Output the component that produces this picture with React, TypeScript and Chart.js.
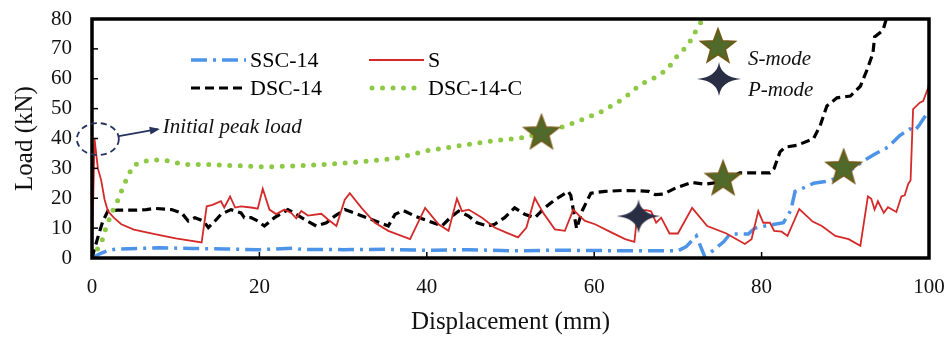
import React, { useEffect, useRef } from 'react';
import { Chart, registerables } from 'chart.js';
Chart.register(...registerables);

// ---------- data ----------
const sscX = [0, 1, 1.9, 3, 5.5, 8, 12, 16, 20, 24, 25, 30, 35, 40, 45, 50, 55, 60, 65, 70, 71, 72.2, 73.2, 74.2, 75.5, 76.2, 78.4, 79.2, 80.4, 82.6, 83.5, 84, 84.8, 86.2, 87.6, 89, 90.5, 92, 93.6, 95.1, 96.5, 97.7, 98.3, 98.9, 99.7, 100];
const sscY = [0, 1.5, 2.5, 3, 3.2, 3.4, 3.2, 3, 2.8, 3.3, 2.9, 2.8, 2.9, 2.6, 2.8, 2.4, 2.6, 2.5, 2.4, 2.4, 3.8, 7.4, 0.5, 2.5, 5.5, 8, 8, 10, 10.7, 11.8, 16, 22.3, 23.2, 25, 25.6, 26.7, 29, 32.2, 34.9, 37.1, 41, 43.2, 42.5, 44.8, 48.1, 48.5];

const sX = [0, 0.3, 0.7, 1.1, 1.5, 1.9, 2.6, 3.5, 5, 7.5, 10, 13.1, 13.7, 14.4, 15.4, 15.8, 16.5, 17.1, 17.8, 19, 19.8, 20.4, 21.2, 22, 23, 23.8, 24.4, 25, 25.8, 27.4, 28.2, 29.2, 30.2, 30.8, 32.2, 33.8, 35.4, 38, 39.8, 41.4, 42.6, 43.6, 44.2, 45, 46.6, 48.1, 49.5, 50.9, 51.9, 52.9, 53.9, 55.3, 56.5, 57.5, 58.2, 58.9, 60.1, 62.1, 63.7, 64.8, 65.2, 66.2, 66.8, 67.4, 68, 69, 70, 71.7, 73.5, 75.8, 78, 78.8, 79.6, 80.2, 81, 81.5, 82.4, 83.1, 84.5, 86.1, 87.2, 88.8, 90.4, 91.8, 92.7, 93.1, 93.5, 93.9, 94.6, 95.1, 96.1, 96.7, 97.1, 97.5, 97.8, 98.1, 98.9, 99.3, 99.9, 100];
const sY = [0, 40, 30, 26, 19.6, 15.7, 13.5, 11.3, 9.5, 8, 6.6, 5.2, 17.3, 17.8, 19, 16.9, 20.6, 16.9, 17.3, 16.9, 16.5, 23.2, 16.2, 14.7, 16.2, 15.1, 13.3, 15.7, 14.2, 14.8, 12.9, 10.7, 19.5, 21.7, 16.8, 11.8, 9.1, 6.3, 16.8, 11.3, 9.1, 19.9, 15.7, 16.2, 13.5, 10.2, 8.5, 6.9, 10.2, 20.1, 15.1, 9.6, 9.1, 16.2, 14.2, 12.4, 11.3, 8.5, 6.3, 5.4, 15.7, 16, 15.6, 11.8, 13.5, 8.2, 8.2, 16.8, 10.7, 8.2, 4.7, 6.3, 15.7, 11.8, 11.8, 9.1, 8.8, 7.4, 16.4, 12.2, 10.7, 7.4, 6.3, 4.1, 20.6, 19.8, 16.2, 19, 15.1, 17, 15.4, 20.6, 21, 24.7, 26, 49.8, 52, 52.5, 57, 58.5];

const dscX = [0, 0.7, 1.3, 1.9, 3, 5, 6.5, 7.5, 9.5, 10.7, 11.5, 12.3, 13.3, 13.9, 14.7, 15.4, 16.6, 17.8, 18.2, 19, 19.8, 20.6, 21.8, 23.4, 24.4, 25.4, 26.8, 28, 29, 30.2, 31.8, 33.4, 35.4, 36.2, 37.2, 38.6, 40.2, 41.8, 42.8, 43.8, 45, 46, 47.3, 48.1, 49.3, 50.5, 51.7, 52.9, 54.1, 55.3, 56.9, 57.2, 57.9, 58.6, 59.6, 61.3, 63.3, 65.3, 66.5, 67.3, 68.3, 69.7, 71.7, 73.2, 74.8, 76, 77.4, 81, 81.5, 82.2, 82.8, 84.2, 86.2, 87, 87.8, 89, 90.6, 91.8, 92.6, 93.3, 93.5, 94.5, 94.9, 95.2];
const dscY = [0, 6.9, 12.4, 15.7, 16, 16, 16.2, 16.6, 16.2, 15.1, 12.4, 13.5, 12.4, 10.2, 12.4, 14.6, 16.2, 15.1, 13.5, 13.5, 12.4, 10.7, 13.5, 16.2, 14.6, 12.9, 10.7, 11.8, 14, 16.2, 14.6, 12.9, 10.7, 14.6, 15.9, 14, 12.4, 10.7, 13.5, 15.7, 14, 11.8, 10.7, 11.3, 13.5, 16.8, 14.6, 13.5, 16.8, 19.5, 22.3, 21, 9.8, 16, 21.7, 22.3, 22.6, 22.5, 22.3, 21.2, 21.4, 23.4, 25.3, 24.7, 25.3, 26.5, 28.5, 28.5, 30, 35.5, 37.1, 37.7, 39.9, 44.3, 50.9, 53.6, 54.2, 57.5, 63, 68.5, 74, 76.2, 80, 82];

const dsccX = [0, 0.56, 1.2, 1.55, 2.35, 2.95, 3.35, 3.9, 4.9, 6.1, 7.5, 8.7, 11.1, 14, 17.3, 20.9, 24.8, 28.2, 32.2, 36.2, 40.2, 44.2, 48.1, 51.9, 53.7, 56.7, 60.7, 63.5, 65.5, 67.1, 68.7, 70, 71.2, 72.4, 73, 73.4];
const dsccY = [0, 2.5, 5.8, 9.1, 15.1, 18.4, 21.2, 25, 30.9, 32.4, 32.8, 32.7, 31.3, 31.3, 30.9, 30.5, 30.9, 31.4, 32.2, 33.3, 36, 37.7, 39.3, 40.4, 42, 44.3, 48.7, 53.3, 58, 60.2, 63, 67.9, 71.2, 77.3, 80, 82];

const sModeX = [53.7, 75.4, 89.8];
const sModeY = [42.1, 26.7, 30.5];
const pModeX = [65.3];
const pModeY = [14];

const peakNote = { x: 0.7, y: 39.8, text: 'Initial peak load' };
const seriesLabels = ['SSC-14', 'S', 'DSC-14', 'DSC-14-C'];
const modeLabels = ['S-mode', 'P-mode'];
const xTicks = { min: 0, max: 100, step: 20 };
const yTicks = { min: 0, max: 80, step: 10 };

const SERIF = "'Liberation Serif', 'Times New Roman', serif";
const BLUE = '#4d94e8';
const RED = '#d42a2a';
const GREEN = '#8dc945';

function pts(xs: number[], ys: number[]) {
  return xs.map((x, i) => ({ x, y: ys[i] }));
}

function makeStar5(rOuter: number, rInner: number) {
  const size = Math.ceil(rOuter * 2 + 4);
  const c = document.createElement('canvas');
  c.width = size; c.height = size;
  const ctx = c.getContext('2d')!;
  const cx = size / 2, cy = size / 2 + 1;
  ctx.beginPath();
  for (let i = 0; i < 10; i++) {
    const r = i % 2 === 0 ? rOuter : rInner;
    const a = -Math.PI / 2 + (i * Math.PI) / 5;
    const px = cx + r * Math.cos(a), py = cy + r * Math.sin(a);
    if (i === 0) ctx.moveTo(px, py); else ctx.lineTo(px, py);
  }
  ctx.closePath();
  ctx.fillStyle = '#4f6a2a';
  ctx.fill();
  ctx.lineWidth = 1.8;
  ctx.strokeStyle = '#6e5a18';
  ctx.stroke();
  return c;
}

function makeStar4(rx: number, ry: number, k: number) {
  const w = Math.ceil(rx * 2 + 4), h = Math.ceil(ry * 2 + 4);
  const c = document.createElement('canvas');
  c.width = w; c.height = h;
  const ctx = c.getContext('2d')!;
  const cx = w / 2, cy = h / 2;
  ctx.beginPath();
  ctx.moveTo(cx + rx, cy);
  ctx.quadraticCurveTo(cx + k, cy + k, cx, cy + ry);
  ctx.quadraticCurveTo(cx - k, cy + k, cx - rx, cy);
  ctx.quadraticCurveTo(cx - k, cy - k, cx, cy - ry);
  ctx.quadraticCurveTo(cx + k, cy - k, cx + rx, cy);
  ctx.closePath();
  ctx.fillStyle = '#2a2e45';
  ctx.fill();
  return c;
}

export default function App() {
  const ref = useRef<HTMLCanvasElement | null>(null);
  useEffect(() => {
    if (!ref.current) return;
    const star5 = makeStar5(18, 7.5);
    const star4 = makeStar4(22, 17, 2);

    const overlay = {
      id: 'overlay',
      afterDatasetsDraw(chart: any) {
        const { ctx, chartArea, scales } = chart;
        const { left, right, top, bottom } = chartArea;
        const xs = scales.x, ys = scales.y;
        ctx.save();
        // frame
        ctx.strokeStyle = '#000';
        ctx.lineWidth = 3.5;
        ctx.setLineDash([]);
        ctx.strokeRect(left, top, right - left, bottom - top);
        // inward tick marks
        ctx.lineWidth = 1.5;
        for (let v = xTicks.min + xTicks.step; v < xTicks.max; v += xTicks.step) {
          const px = xs.getPixelForValue(v);
          ctx.beginPath(); ctx.moveTo(px, bottom); ctx.lineTo(px, bottom - 6); ctx.stroke();
        }
        for (let v = yTicks.min + yTicks.step; v < yTicks.max; v += yTicks.step) {
          const py = ys.getPixelForValue(v);
          ctx.beginPath(); ctx.moveTo(left, py); ctx.lineTo(left + 6, py); ctx.stroke();
        }

        // legend (2 columns)
        const ds = chart.data.datasets;
        const items = [
          { d: ds[2], col: 0, row: 0 },
          { d: ds[3], col: 1, row: 0 },
          { d: ds[4], col: 0, row: 1 },
          { d: ds[5], col: 1, row: 1 },
        ];
        const colX = [left + 99, left + 277];
        const rowY = [top + 41, top + 69];
        ctx.font = `22px ${SERIF}`;
        ctx.textBaseline = 'middle';
        ctx.textAlign = 'left';
        for (const it of items) {
          const x0 = colX[it.col], y0 = rowY[it.row];
          const len = 55;
          ctx.save();
          ctx.strokeStyle = it.d.borderColor;
          ctx.lineWidth = it.d.borderWidth;
          ctx.lineCap = it.d.borderCapStyle || 'butt';
          ctx.setLineDash(it.d.borderDash || []);
          ctx.beginPath();
          ctx.moveTo(x0 + (it.d.borderCapStyle === 'round' ? 3 : 0), y0);
          ctx.lineTo(x0 + len, y0);
          ctx.stroke();
          ctx.restore();
          ctx.fillStyle = '#000';
          ctx.fillText(it.d.label, x0 + len + 4, y0 + 1);
        }

        // mode key
        const kx = left + 626;
        ctx.drawImage(star5, kx - star5.width / 2, top + 27 - star5.height / 2);
        ctx.drawImage(star4, kx + 1 - star4.width / 2, top + 60 - star4.height / 2);
        ctx.font = `italic 21px ${SERIF}`;
        ctx.fillStyle = '#111';
        ctx.fillText(modeLabels[0], kx + 30, top + 40);
        ctx.fillText(modeLabels[1], kx + 30, top + 71);

        // initial peak annotation
        const cx = xs.getPixelForValue(peakNote.x);
        const cy = ys.getPixelForValue(peakNote.y);
        ctx.strokeStyle = '#25335e';
        ctx.lineWidth = 1.8;
        ctx.setLineDash([6, 4]);
        ctx.beginPath();
        ctx.ellipse(cx, cy, 21, 16, 0, 0, Math.PI * 2);
        ctx.stroke();
        ctx.setLineDash([]);
        const ax0 = cx + 21, ay0 = cy - 3, ax1 = cx + 60, ay1 = cy - 10;
        ctx.beginPath(); ctx.moveTo(ax0, ay0); ctx.lineTo(ax1, ay1); ctx.stroke();
        const ang = Math.atan2(ay1 - ay0, ax1 - ax0);
        ctx.fillStyle = '#25335e';
        ctx.beginPath();
        ctx.moveTo(ax1 + 2, ay1);
        ctx.lineTo(ax1 - 9 * Math.cos(ang - 0.45), ay1 - 9 * Math.sin(ang - 0.45));
        ctx.lineTo(ax1 - 9 * Math.cos(ang + 0.45), ay1 - 9 * Math.sin(ang + 0.45));
        ctx.closePath(); ctx.fill();
        ctx.fillStyle = '#111';
        ctx.font = `italic 21px ${SERIF}`;
        ctx.fillText(peakNote.text, ax1 + 5, ay1 - 2);
        ctx.restore();
      },
    };

    const chart = new Chart(ref.current, {
      type: 'scatter',
      data: {
        datasets: [
          {
            label: 'S-mode', data: pts(sModeX, sModeY), pointStyle: star5 as any,
            pointRadius: 18, showLine: false, order: 0,
          },
          {
            label: 'P-mode', data: pts(pModeX, pModeY), pointStyle: star4 as any,
            pointRadius: 18, showLine: false, order: 0,
          },
          {
            label: seriesLabels[0], data: pts(sscX, sscY), showLine: true, pointRadius: 0,
            borderColor: BLUE, borderWidth: 3.5, borderDash: [16, 6, 3, 6], order: 4,
          },
          {
            label: seriesLabels[1], data: pts(sX, sY), showLine: true, pointRadius: 0,
            borderColor: RED, borderWidth: 1.8, order: 2,
          },
          {
            label: seriesLabels[2], data: pts(dscX, dscY), showLine: true, pointRadius: 0,
            borderColor: '#000', borderWidth: 3.2, borderDash: [9, 5], order: 3,
          },
          {
            label: seriesLabels[3], data: pts(dsccX, dsccY), showLine: true, pointRadius: 0,
            borderColor: GREEN, borderWidth: 5, borderDash: [0, 10.5], borderCapStyle: 'round', order: 1,
          },
        ] as any,
      },
      options: {
        animation: false,
        responsive: false,
        maintainAspectRatio: false,
        layout: { padding: { top: 15, right: 20, left: 0, bottom: 0 } },
        plugins: { legend: { display: false }, tooltip: { enabled: false } },
        elements: { line: { tension: 0 } },
        scales: {
          x: {
            type: 'linear', min: xTicks.min, max: xTicks.max,
            grid: { display: false, drawTicks: false }, border: { display: false },
            ticks: { stepSize: xTicks.step, autoSkip: false, maxRotation: 0, color: '#111', font: { family: SERIF, size: 21 }, padding: 17 },
            title: { display: true, text: 'Displacement (mm)', color: '#111', font: { family: SERIF, size: 25 }, padding: { top: 8, bottom: 0 } },
            afterFit: (s: any) => { s.height = 79; s.paddingLeft = 0; s.paddingRight = 0; },
          },
          y: {
            type: 'linear', min: yTicks.min, max: yTicks.max,
            grid: { display: false, drawTicks: false }, border: { display: false },
            ticks: { stepSize: yTicks.step, autoSkip: false, color: '#111', font: { family: SERIF, size: 21 }, padding: 20 },
            title: { display: true, text: 'Load (kN)', color: '#111', font: { family: SERIF, size: 25 }, padding: { top: 10, bottom: 0 } },
            afterFit: (s: any) => { s.width = 92; s.paddingTop = 0; s.paddingBottom = 0; },
          },
        },
      } as any,
      plugins: [overlay],
    });
    return () => chart.destroy();
  }, []);

  return (
    <div style={{ position: 'fixed', left: 0, top: 0, width: 949, height: 337, background: '#fff' }}>
      <canvas ref={ref} width={949} height={337} style={{ display: 'block', width: 949, height: 337 }} />
    </div>
  );
}
